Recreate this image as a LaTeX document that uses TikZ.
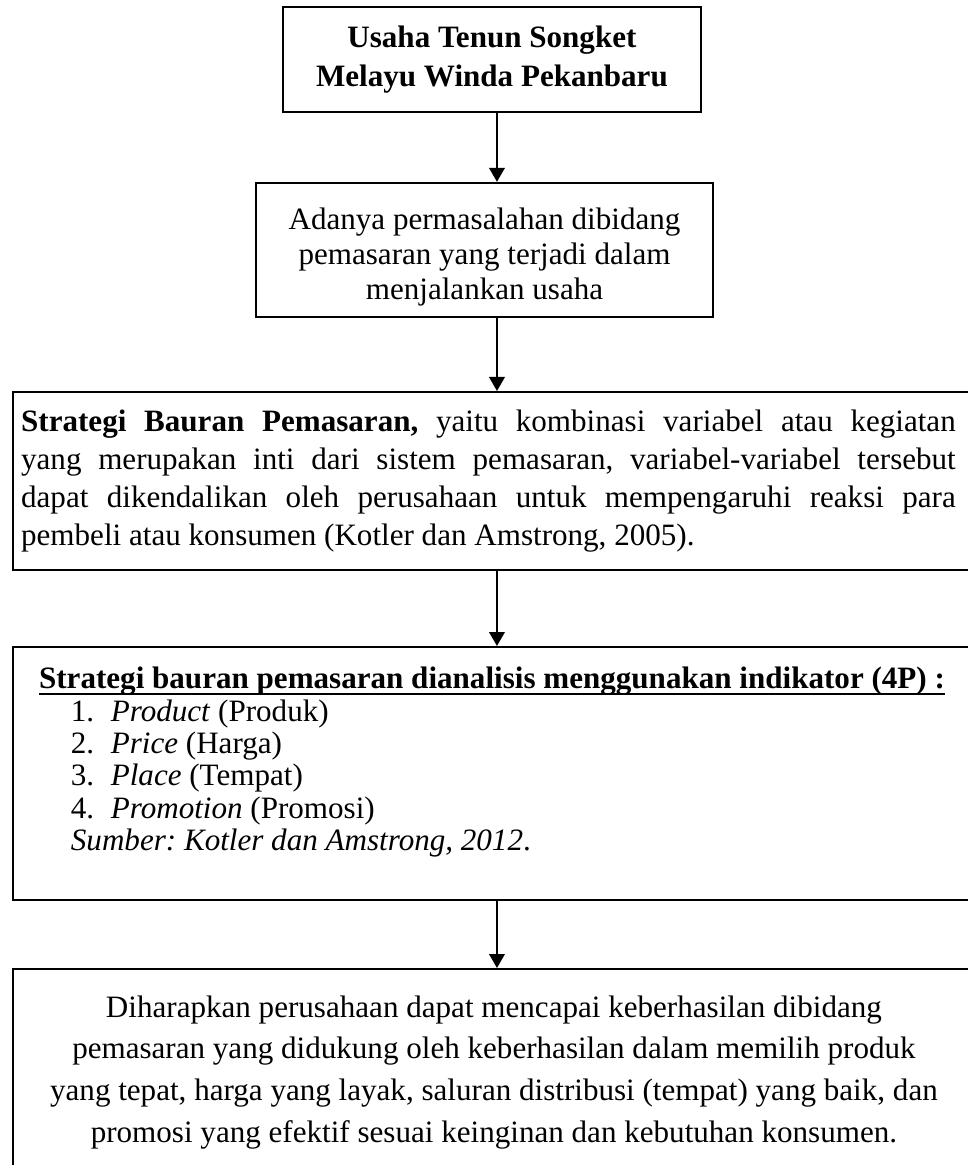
\documentclass[tikz,border=0pt]{standalone}
\usepackage{fontspec}
\setmainfont{Liberation Serif}
\usepackage{tikz}
\usetikzlibrary{arrows.meta}
\frenchspacing
\tikzstyle{blok}=[shape=rectangle,draw,line width=0.9pt,inner sep=0pt,font=\fontsize{12}{13.5}\selectfont]
\tikzstyle{lebar}=[blok,anchor=north west,text width=380pt,align=justify]
\tikzstyle{tran}=[draw,-{Triangle[length=5.4pt,width=6pt]},line width=0.8pt]
\newcommand{\garisbawah}[1]{\leavevmode\setbox0\hbox{#1}\rlap{\rule[-2.2pt]{\wd0}{0.6pt}}\box0}

\begin{document}
\begin{tikzpicture}
\useasboundingbox (0,0) rectangle (13.134,-15.807);
\clip (0,0) rectangle (13.134,-15.807);
\coordinate (sumbu) at (6.743,0);

\node[blok,minimum width=5.671cm,minimum height=1.425cm,align=center,
font=\fontsize{12}{15}\selectfont\bfseries] (usaha) at (6.675,-0.807)
{Usaha Tenun Songket\\Melayu Winda Pekanbaru};
\node[blok,minimum width=6.201cm,minimum height=1.818cm,align=center]
(masalah) at (6.574,-3.392)
{\rule{0pt}{14pt}Adanya permasalahan dibidang\\pemasaran yang terjadi dalam\\menjalankan usaha};

\node[lebar,inner xsep=3.08pt,minimum height=2.415cm] (strategi) at (0.163,-5.305)
{\noindent\parbox{360.8pt}{\fontsize{12}{14.6}\selectfont
\textbf{Strategi Bauran Pemasaran,} yaitu kombinasi variabel atau kegiatan\linebreak
yang merupakan inti dari sistem pemasaran, variabel-variabel tersebut\linebreak
dapat dikendalikan oleh perusahaan untuk mempengaruhi reaksi para\linebreak
pembeli atau konsumen (Kotler dan Amstrong, 2005).}};

\node[lebar,inner xsep=10pt,minimum height=3.433cm] (indikator) at (0.163,-8.765)
{\noindent\parbox{355pt}{\fontsize{12}{12.5}\selectfont
\garisbawah{\textbf{Strategi bauran pemasaran dianalisis menggunakan indikator (4P) :}}\\
\hspace*{12.3pt}\makebox[15.4pt][l]{1.}\textit{Product} (Produk)\\
\hspace*{12.3pt}\makebox[15.4pt][l]{2.}\textit{Price} (Harga)\\
\hspace*{12.3pt}\makebox[15.4pt][l]{3.}\textit{Place} (Tempat)\\
\hspace*{12.3pt}\makebox[15.4pt][l]{4.}\textit{Promotion} (Promosi)\\
\hspace*{12.3pt}\textit{Sumber: Kotler dan Amstrong, 2012}.\par\vspace*{8.8pt}}};

\node[lebar,inner xsep=4.85pt,minimum height=2.8cm] (harapan) at (0.163,-13.134)
{\noindent\parbox{361.5pt}{\centering\fontsize{12}{16.15}\selectfont
Diharapkan perusahaan dapat mencapai keberhasilan dibidang\\
pemasaran yang didukung oleh keberhasilan dalam memilih produk\\
yang tepat, harga yang layak, saluran distribusi (tempat) yang baik, dan\\
promosi yang efektif sesuai keinginan dan kebutuhan konsumen.}};

\draw[tran] (usaha.south -| sumbu) -- (masalah.north -| sumbu);
\draw[tran] (masalah.south -| sumbu) -- (strategi.north -| sumbu);
\draw[tran] (strategi.south -| sumbu) -- (indikator.north -| sumbu);
\draw[tran] (indikator.south -| sumbu) -- (harapan.north -| sumbu);
\end{tikzpicture}
\end{document}
